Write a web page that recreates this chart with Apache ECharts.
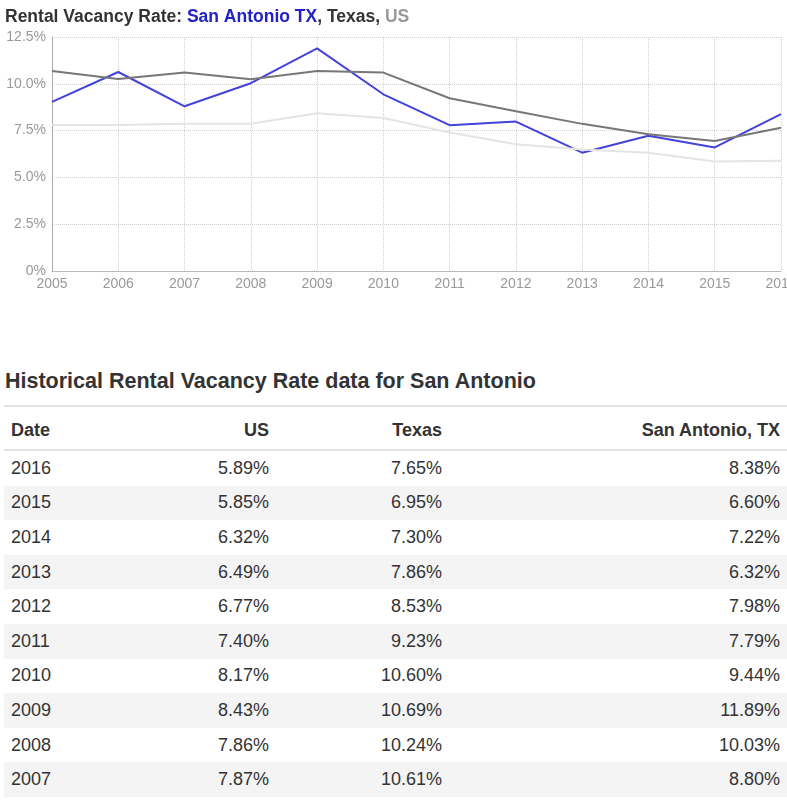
<!DOCTYPE html>
<html>
<head>
<meta charset="utf-8">
<script src="https://cdn.jsdelivr.net/npm/echarts@6/dist/echarts.min.js"></script>
<style>
  html, body { margin: 0; padding: 0; background: #fff; width: 787px; height: 800px; overflow: hidden; font-family: "Liberation Sans", Arial, Helvetica, sans-serif; color: #333; }
  #chart { position: absolute; left: 0; top: 0; width: 787px; height: 300px; }
  #heading { position: absolute; left: 5px; top: 368px; margin: 0; font-size: 21.5px; font-weight: bold; color: #333; white-space: nowrap; line-height: 26px; }
  #tbl { position: absolute; left: 4px; top: 405px; width: 783px; border-collapse: collapse; font-size: 18px; color: #333; }
  #tbl th, #tbl td { padding: 0 7px; height: 34.6px; }
  #tbl thead th { font-weight: bold; border-top: 2px solid #e2e2e2; border-bottom: 2px solid #e2e2e2; height: 44px; padding-top: 4px; box-sizing: border-box; }
  #tbl tbody tr:nth-child(even) { background: #f4f4f4; }
  .l { text-align: left; }
  .r { text-align: right; }
</style>
</head>
<body>
<div id="chart"></div>
<h3 id="heading">Historical Rental Vacancy Rate data for San Antonio</h3>
<table id="tbl">
  <colgroup><col style="width:136px"><col style="width:136px"><col style="width:173px"><col style="width:338px"></colgroup>
  <thead><tr><th class="l">Date</th><th class="r">US</th><th class="r">Texas</th><th class="r">San Antonio, TX</th></tr></thead>
  <tbody id="tbody"></tbody>
</table>
<script>
const years = ['2005','2006','2007','2008','2009','2010','2011','2012','2013','2014','2015','2016'];
const sanAntonio = [9.03, 10.63, 8.80, 10.03, 11.89, 9.44, 7.79, 7.98, 6.32, 7.22, 6.60, 8.38];
const texas = [10.68, 10.26, 10.61, 10.24, 10.69, 10.60, 9.23, 8.53, 7.86, 7.30, 6.95, 7.65];
const us = [7.80, 7.80, 7.87, 7.86, 8.43, 8.17, 7.40, 6.77, 6.49, 6.32, 5.85, 5.89];
const tableYears = ['2016','2015','2014','2013','2012','2011','2010','2009','2008','2007'];

// table
const tbody = document.getElementById('tbody');
tableYears.forEach(y => {
  const i = years.indexOf(y);
  const tr = document.createElement('tr');
  tr.innerHTML = '<td class="l">' + y + '</td>' +
    '<td class="r">' + us[i].toFixed(2) + '%</td>' +
    '<td class="r">' + texas[i].toFixed(2) + '%</td>' +
    '<td class="r">' + sanAntonio[i].toFixed(2) + '%</td>';
  tbody.appendChild(tr);
});

const chart = echarts.init(document.getElementById('chart'), null, { renderer: 'canvas' });
chart.setOption({
  animation: false,
  backgroundColor: '#fff',
  title: {
    left: 0, top: 3,
    text: '{a|Rental Vacancy Rate: }{b|San Antonio TX}{a|, Texas, }{c|US}',
    textStyle: {
      rich: {
        a: { fontSize: 17.5, fontWeight: 'bold', color: '#333', fontFamily: 'Liberation Sans, Arial' },
        b: { fontSize: 17.5, fontWeight: 'bold', color: '#2222c8', fontFamily: 'Liberation Sans, Arial' },
        c: { fontSize: 17.5, fontWeight: 'bold', color: '#999', fontFamily: 'Liberation Sans, Arial' }
      }
    }
  },
  grid: { left: 52, right: 6, top: 37, bottom: 29, containLabel: false, outerBoundsMode: 'none' },
  xAxis: {
    type: 'category',
    data: years,
    boundaryGap: false,
    axisLine: { show: true, lineStyle: { color: '#aaa', width: 1, type: 'dotted' } },
    axisTick: { show: false },
    axisLabel: { color: '#999', fontSize: 14, margin: 6, fontFamily: 'Liberation Sans, Arial', hideOverlap: false },
    splitLine: { show: true, lineStyle: { color: '#d0d0d0', type: 'dotted' } }
  },
  yAxis: {
    type: 'value',
    min: 0, max: 12.5, interval: 2.5,
    axisLine: { show: true, lineStyle: { color: '#aaa', width: 1 } },
    axisTick: { show: false },
    axisLabel: {
      color: '#999', fontSize: 14, margin: 6, fontFamily: 'Liberation Sans, Arial',
      formatter: v => v === 0 ? '0%' : v.toFixed(1) + '%'
    },
    splitLine: { show: true, lineStyle: { color: '#d0d0d0', type: 'dotted' } }
  },
  series: [
    { name: 'San Antonio TX', type: 'line', data: sanAntonio, symbol: 'none', lineStyle: { color: '#4343dc', width: 2 }, itemStyle: { color: '#4343dc' } },
    { name: 'Texas', type: 'line', data: texas, symbol: 'none', lineStyle: { color: '#777', width: 2 }, itemStyle: { color: '#777' } },
    { name: 'US', type: 'line', data: us, symbol: 'none', lineStyle: { color: '#e4e4e4', width: 2 }, itemStyle: { color: '#e4e4e4' } }
  ]
});
</script>
</body>
</html>
